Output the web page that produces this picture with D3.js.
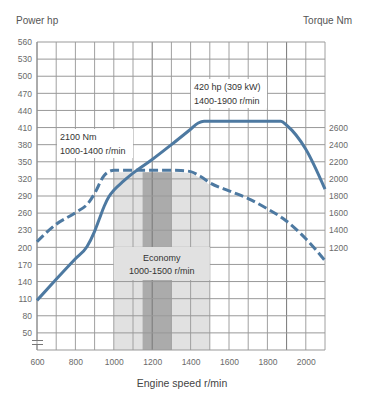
<!DOCTYPE html>
<html>
<head>
<meta charset="utf-8">
<script src="https://cdn.jsdelivr.net/npm/d3@7"></script>
<style>
body { margin: 0; background: #fff; }
text { font-family: "Liberation Sans", Arial, sans-serif; }
</style>
</head>
<body>
<svg id="chart" width="376" height="400"></svg>
<script>
// power curve (hp) vs engine speed
const powerRpm = [600, 700, 800, 860, 900, 925, 950, 975, 1000, 1050, 1100, 1200, 1300, 1400, 1440, 1470, 1870, 1900, 2000, 2100];
const powerHp = [107, 144, 180, 201, 228, 250, 272, 289, 300, 316, 330, 354, 380, 407, 418, 421, 421, 414, 372, 302];

// torque curve (Nm) vs engine speed
const torqueRpm = [600, 700, 800, 870, 900, 950, 985, 1000, 1100, 1300, 1350, 1400, 1450, 1500, 1600, 1700, 1800, 1880, 2000, 2100];
const torqueNm = [1265, 1470, 1605, 1725, 1830, 2040, 2095, 2100, 2100, 2100, 2098, 2085, 2030, 1955, 1860, 1770, 1650, 1540, 1300, 1045];

const hpTicks = d3.range(50, 561, 30);
const nmTicks = [1200, 1400, 1600, 1800, 2000, 2200, 2400, 2600];
const rpmTicks = [600, 800, 1000, 1200, 1400, 1600, 1800, 2000];
const rpmGrid = d3.range(600, 2101, 100);
const economyRange = [1000, 1500];
const economyCore = [1150, 1300];

const svg = d3.select('#chart');
const x = d3.scaleLinear().domain([600, 2100]).range([37, 325]);
const y = d3.scaleLinear().domain([20, 560]).range([350, 42]);
// torque axis shares the grid: 1200 Nm sits on 200 hp, 2600 Nm on 410 hp
const yT = d3.scaleLinear().domain([1200, 2600]).range([y(200), y(410)]);

const power = powerRpm.map((r, i) => [r, powerHp[i]]);
const torque = torqueRpm.map((r, i) => [r, torqueNm[i]]);

// economy band under the torque curve
const defs = svg.append('defs');
defs.append('clipPath').attr('id', 'eco')
    .append('rect')
    .attr('x', x(economyRange[0])).attr('y', 0)
    .attr('width', x(economyRange[1]) - x(economyRange[0])).attr('height', 400);
defs.append('clipPath').attr('id', 'ecoCore')
    .append('rect')
    .attr('x', x(economyCore[0])).attr('y', 0)
    .attr('width', x(economyCore[1]) - x(economyCore[0])).attr('height', 400);

const underTorque = d3.area()
    .curve(d3.curveMonotoneX)
    .x(d => x(d[0]))
    .y0(y(20))
    .y1(d => yT(d[1]) + 2);

svg.append('path').datum(torque)
    .attr('d', underTorque)
    .attr('clip-path', 'url(#eco)')
    .attr('fill', '#e1e1e1');
svg.append('path').datum(torque)
    .attr('d', underTorque)
    .attr('clip-path', 'url(#ecoCore)')
    .attr('fill', '#ababab');

// grid
const grid = svg.append('g');
grid.selectAll('.v').data(rpmGrid).enter().append('line')
    .attr('x1', d => x(d)).attr('x2', d => x(d))
    .attr('y1', y(560)).attr('y2', y(20))
    .attr('stroke', d => (d === 1200 || d === 1900) ? '#777' : '#a0a0a0')
    .attr('stroke-width', 1);
grid.selectAll('.h').data(hpTicks).enter().append('line')
    .attr('x1', x(600)).attr('x2', x(2100))
    .attr('y1', d => y(d)).attr('y2', d => y(d))
    .attr('stroke', '#999')
    .attr('stroke-width', 1);
grid.append('line')
    .attr('x1', x(600)).attr('x2', x(2100))
    .attr('y1', y(20)).attr('y2', y(20))
    .attr('stroke', '#999');

// economy label box hides the grid
const ecoMid = (economyRange[0] + economyRange[1]) / 2;
svg.append('rect')
    .attr('x', x(economyRange[0])).attr('y', 247)
    .attr('width', x(economyRange[1]) - x(economyRange[0])).attr('height', 33)
    .attr('fill', '#e1e1e1');
svg.append('text').attr('x', x(ecoMid)).attr('y', 261)
    .attr('text-anchor', 'middle').attr('font-size', 9).attr('fill', '#333')
    .text('Economy');
svg.append('text').attr('x', x(ecoMid)).attr('y', 274)
    .attr('text-anchor', 'middle').attr('font-size', 9).attr('fill', '#333')
    .text('1000-1500 r/min');

// axis break on the left edge
svg.append('line').attr('x1', x(600)).attr('x2', x(600))
    .attr('y1', y(560)).attr('y2', 340).attr('stroke', '#888');
svg.append('line').attr('x1', x(600)).attr('x2', x(600))
    .attr('y1', 345).attr('y2', y(20)).attr('stroke', '#888');
[340.5, 344.5].forEach(yy => {
    svg.append('line').attr('x1', 32).attr('x2', 43)
        .attr('y1', yy).attr('y2', yy).attr('stroke', '#777');
});

// axis labels
const leftAxis = d3.axisLeft(y).tickValues(hpTicks).tickSize(0).tickPadding(5);
const gl = svg.append('g').attr('transform', `translate(${x(600)},0)`).call(leftAxis);
const rightAxis = d3.axisRight(yT).tickValues(nmTicks).tickSize(0).tickPadding(4).tickFormat(d3.format('d'));
const gr = svg.append('g').attr('transform', `translate(${x(2100)},0)`).call(rightAxis);
const bottomAxis = d3.axisBottom(x).tickValues(rpmTicks).tickSize(0).tickPadding(9).tickFormat(d3.format('d'));
const gb = svg.append('g').attr('transform', `translate(0,${y(20)})`).call(bottomAxis);
[gl, gr, gb].forEach(g => {
    g.select('.domain').remove();
    g.selectAll('text')
        .attr('font-size', 8.5)
        .attr('fill', '#6a6a6a')
        .style('font-family', '"Liberation Sans", Arial, sans-serif');
});

// curves
const powerLine = d3.line().curve(d3.curveMonotoneX).x(d => x(d[0])).y(d => y(d[1]));
const torqueLine = d3.line().curve(d3.curveMonotoneX).x(d => x(d[0])).y(d => yT(d[1]));

svg.append('path').datum(torque)
    .attr('d', torqueLine)
    .attr('fill', 'none')
    .attr('stroke', '#4d79a1')
    .attr('stroke-width', 3)
    .attr('stroke-dasharray', '9,4');
svg.append('path').datum(power)
    .attr('d', powerLine)
    .attr('fill', 'none')
    .attr('stroke', '#4d79a1')
    .attr('stroke-width', 3)
    .attr('stroke-linejoin', 'round');

// annotations with white boxes
function note(lines, x0, y0, w, h) {
    svg.append('rect').attr('x', x0).attr('y', y0).attr('width', w).attr('height', h).attr('fill', '#fff');
    lines.forEach((t, i) => {
        svg.append('text').attr('x', x0 + 3).attr('y', y0 + 11 + i * 13.5)
            .attr('font-size', 9).attr('fill', '#333').text(t);
    });
}
note(['420 hp (309 kW)', '1400-1900 r/min'], 191, 79, 76, 29);
note(['2100 Nm', '1000-1400 r/min'], 57, 129, 76, 29);

// titles
svg.append('text').attr('x', 16).attr('y', 24).attr('font-size', 10).attr('fill', '#555').text('Power hp');
svg.append('text').attr('x', 352).attr('y', 24).attr('text-anchor', 'end')
    .attr('font-size', 10).attr('fill', '#555').text('Torque Nm');
svg.append('text').attr('x', 182).attr('y', 387).attr('text-anchor', 'middle')
    .attr('font-size', 10.5).attr('fill', '#444').text('Engine speed r/min');
</script>
</body>
</html>
